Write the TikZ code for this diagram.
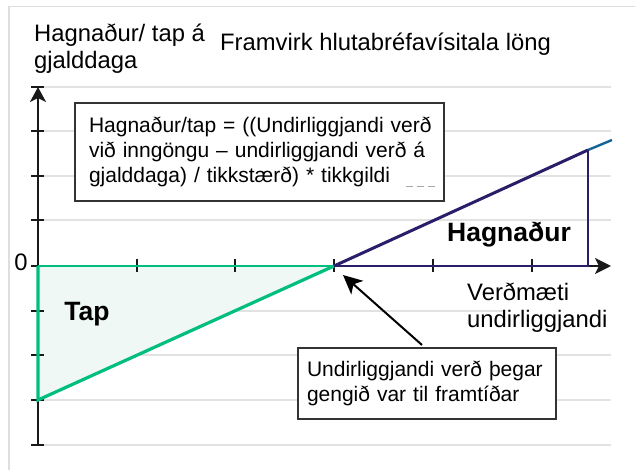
\documentclass[tikz,border=0pt]{standalone}
\usepackage{fontspec}
\setmainfont{Liberation Sans}
\usetikzlibrary{positioning,arrows.meta}
\definecolor{grid_col}{RGB}{226, 226, 226}
\definecolor{frame_col}{RGB}{222, 222, 222}
\definecolor{green_out}{RGB}{0, 190, 125}
\definecolor{green_fil}{RGB}{240, 248, 245}
\definecolor{navy_out}{RGB}{40, 30, 105}
\definecolor{teal_out}{RGB}{20, 100, 150}
\definecolor{axis_col}{RGB}{25, 25, 25}
\newcommand\bigfnt{\fontsize{23.8}{26.5}\selectfont}
\newcommand\medfnt{\fontsize{21}{25}\selectfont}
\newcommand\boldfnt{\fontsize{26.5}{28}\selectfont\bfseries}
\tikzset{gridline/.style = {line width=1.3pt, grid_col}}
\tikzset{axisline/.style = {line width=2pt, axis_col}}
\tikzset{tickline/.style = {line width=1.2pt, axis_col}}
\tikzset{plaintext/.style = {inner sep=0pt, align=left, anchor=north west, font=\bigfnt}}
\tikzset{notebox/.style = {draw=black!80, fill=white, line width=2pt, inner ysep=0pt, align=left, anchor=north west, font=\medfnt}}
\tikzset{pointer/.style = {line width=2pt, -{Stealth[length=19pt,width=18pt,inset=5pt]}}}
\begin{document}
\begin{tikzpicture}[x=1pt,y=-1pt]
\useasboundingbox (0,0) rectangle (635,470);
\draw[line width=1.3pt,frame_col] (9,470) -- (9,6.5) -- (635,6.5);

\foreach \y in {87,131,176,220,355,400,445}{
	\draw[gridline] (44,\y) -- (611,\y);
	}
\draw[gridline] (44,311) -- (503,311);

\coordinate (orig) at (38,266);
\coordinate (ytop) at (38,87);
\coordinate (ybot) at (38,445);
\coordinate (xend) at (611,266);
\coordinate (strike) at (334,266);
\coordinate (loss) at (38,400);
\coordinate (kink) at (588,150);
\coordinate (kinkb) at (588,266);
\coordinate (lineend) at (612,140);

\fill[green_fil] (orig) -- (strike) -- (loss) -- cycle;

\foreach \y in {87,131,176,220,266,311,355,400,445}{
	\draw[tickline] (31,\y) -- (44,\y);
	}
\foreach \x in {137,235,334,433,532}{
	\draw[tickline] (\x,259) -- (\x,272);
	}
\draw[axisline,-{Stealth[length=15pt,width=16pt,inset=4pt]}] (ybot) -- (ytop);
\draw[axisline,-{Stealth[length=16pt,width=16pt,inset=4pt]}] (orig) -- (xend);

\draw[line width=2.4pt,green_out] (orig) -- (strike);
\draw[line width=3.2pt,green_out] (orig) -- (loss) -- (strike);
\draw[line width=2.4pt,teal_out] (kink) -- (lineend);
\draw[line width=3pt,navy_out] (strike) -- (kink);
\draw[line width=2.6pt,navy_out] (kink) -- (kinkb) -- (strike);

\node[plaintext] (ylab) at (34,24) {Hagnaður/ tap á\\gjalddaga};
\node[plaintext] (title) at (220,33) {Framvirk hlutabréfavísitala löng};
\node[inner sep=0pt,font=\bigfnt] (zero) at (21,262) {0};
\node[inner sep=0pt,font=\boldfnt] (tap) at (87,314) {Tap};
\node[inner sep=0pt,font=\boldfnt] (hagn) at (509,235) {Hagnaður};
\node[plaintext] (xlab) at (467,283) {Verðmæti\\undirliggjandi};

\node[notebox,inner xsep=14pt,minimum height=98pt,text width=341pt] (formula) at (74,102) {\mbox{Hagnaður/tap = ((Undirliggjandi verð}\\við inngöngu – undirliggjandi verð á\\gjalddaga) / tikkstærð) * tikkgildi};
\node[notebox,inner xsep=9pt,minimum height=71pt,text width=240pt] (strikenote) at (297,347) {Undirliggjandi verð þegar\\gengið var til framtíðar};
\coordinate (tail) at (422,345);
\coordinate (head) at (343,275);
\draw[pointer] (tail) -- (head);
\draw[line width=1pt,black!35,dash pattern=on 7pt off 4pt] (406,187) -- (437,187);
\end{tikzpicture}
\end{document}
